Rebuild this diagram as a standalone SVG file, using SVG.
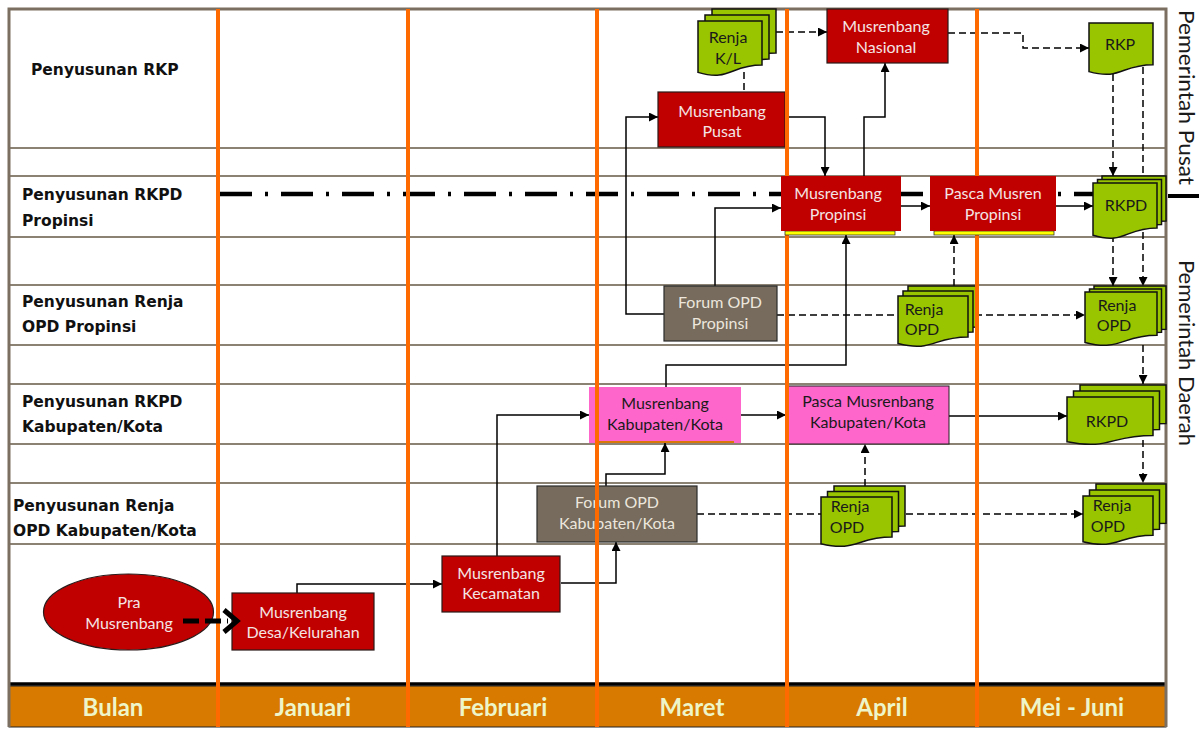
<svg xmlns="http://www.w3.org/2000/svg" width="1203" height="730" viewBox="0 0 1203 730">
<style>
.rl{font-family:"DejaVu Sans","Liberation Sans",sans-serif;font-weight:bold;font-size:15.5px;fill:#111}
.bt{font-family:Lato,"Liberation Sans",sans-serif;font-size:16px;text-anchor:middle}
.lt{fill:#f4e4e4}
.ft{fill:#ece6dc}
.dk{fill:#1a1a1a}
.red{fill:#c00000;stroke:#2a1a1a;stroke-width:1.2}
.redn{fill:#c00000}
.forum{fill:#766b5c;stroke:#2a2a2a;stroke-width:1.2}
.pink{fill:#ff66cc}
.doc{fill:#99c400;stroke:#111;stroke-width:1.5}
.conn{fill:none;stroke:#000;stroke-width:1.5}
.dash{stroke-dasharray:7 4}
.grid{stroke:#8c8274;stroke-width:2}
.col{stroke:#ff6a00;stroke-width:4}
.month{font-family:Lato,"Liberation Sans",sans-serif;font-weight:bold;font-size:24px;fill:#eef5c8;text-anchor:middle}
.side{font-family:Lato,"Liberation Sans",sans-serif;font-size:22px;fill:#1a1a1a}
</style>
<defs>
<marker id="ah" viewBox="0 0 10 10" refX="10" refY="5" markerWidth="10" markerHeight="9" markerUnits="userSpaceOnUse" orient="auto">
<path d="M0 0 L10 5 L0 10 Z" fill="#000"/>
</marker>
</defs>
<rect width="1203" height="730" fill="#fff"/>
<g id="grid">
<line class="grid" x1="9" y1="148" x2="1166" y2="148"/>
<line class="grid" x1="9" y1="176" x2="1166" y2="176"/>
<line class="grid" x1="9" y1="237" x2="1166" y2="237"/>
<line class="grid" x1="9" y1="285" x2="1166" y2="285"/>
<line class="grid" x1="9" y1="345" x2="1166" y2="345"/>
<line class="grid" x1="9" y1="384" x2="1166" y2="384"/>
<line class="grid" x1="9" y1="444" x2="1166" y2="444"/>
<line class="grid" x1="9" y1="483" x2="1166" y2="483"/>
<line class="grid" x1="9" y1="544" x2="1166" y2="544"/>
<rect x="9" y="686" width="1157" height="41" fill="#d97a00" stroke="#222" stroke-width="1"/>
<line x1="9" y1="684" x2="1166" y2="684" stroke="#000" stroke-width="3.5"/>
<path d="M9 727 V9 H1166 V727" fill="none" stroke="#7a6f60" stroke-width="3"/>
<line x1="1168" y1="196" x2="1199" y2="196" stroke="#000" stroke-width="4"/>
</g>
<g id="connectors">
<line x1="220" y1="194" x2="1093" y2="194" stroke="#000" stroke-width="4.5" stroke-dasharray="32 13 3 13"/>
<path class="conn" d="M297 593 V584 H442" marker-end="url(#ah)"/>
<path class="conn" d="M561 583 H616 V542" marker-end="url(#ah)"/>
<path class="conn" d="M497 556 V415 H589" marker-end="url(#ah)"/>
<path class="conn" d="M606 486 V474 H665 V443" marker-end="url(#ah)"/>
<path class="conn" d="M741 415 H786" marker-end="url(#ah)"/>
<path class="conn" d="M666 387 V365 H846 V235" marker-end="url(#ah)"/>
<path class="conn" d="M949 416 H1067" marker-end="url(#ah)"/>
<path class="conn" d="M664 314 H626 V117 H658" marker-end="url(#ah)"/>
<path class="conn" d="M715 286 V208 H781" marker-end="url(#ah)"/>
<path class="conn" d="M785 117 H825 V176" marker-end="url(#ah)"/>
<path class="conn" d="M864 176 V117 H885 V63" marker-end="url(#ah)"/>
<path class="conn" d="M901 206 H930" marker-end="url(#ah)"/>
<path class="conn" d="M1056 206 H1093" marker-end="url(#ah)"/>
<path class="conn dash" d="M776 32 H827" marker-end="url(#ah)"/>
<path class="conn dash" d="M744 72 V92"/>
<path class="conn dash" d="M948 33 H1023 V48 H1089" marker-end="url(#ah)"/>
<path class="conn dash" d="M1113 74 V176" marker-end="url(#ah)"/>
<path class="conn dash" d="M1143 67 V286" marker-end="url(#ah)"/>
<path class="conn dash" d="M1113 235 V286" marker-end="url(#ah)"/>
<path class="conn dash" d="M954 286 V235" marker-end="url(#ah)"/>
<path class="conn dash" d="M777 315 H1085" marker-end="url(#ah)"/>
<path class="conn dash" d="M1143 345 V384" marker-end="url(#ah)"/>
<path class="conn dash" d="M1143 440 V483" marker-end="url(#ah)"/>
<path class="conn dash" d="M865 486 V444" marker-end="url(#ah)"/>
<path class="conn dash" d="M697 514 H1083" marker-end="url(#ah)"/>
</g>
<g id="pra-musrenbang">
<ellipse cx="128.5" cy="612" rx="85" ry="38" class="red"/>
<text class="bt lt" x="129" y="608">Pra</text>
<text class="bt lt" x="129" y="629">Musrenbang</text>
</g>
<g id="musrenbang-desa">
<rect x="232" y="593" width="142" height="57" class="red"/>
<text class="bt lt" x="303" y="618">Musrenbang</text>
<text class="bt lt" x="303" y="638">Desa/Kelurahan</text>
</g>
<g id="musrenbang-kecamatan">
<rect x="442" y="556" width="118" height="56" class="red"/>
<text class="bt lt" x="501" y="579">Musrenbang</text>
<text class="bt lt" x="501" y="599">Kecamatan</text>
</g>
<g id="forum-opd-kab">
<rect x="537" y="486" width="160" height="56" class="forum"/>
<text class="bt ft" x="617" y="508">Forum OPD</text>
<text class="bt ft" x="617" y="529">Kabupaten/Kota</text>
</g>
<g id="musrenbang-kab">
<rect x="589" y="387" width="152" height="56" class="pink"/>
<line x1="597" y1="442" x2="734" y2="442" stroke="#d9780a" stroke-width="2"/>
<text class="bt dk" x="665" y="409">Musrenbang</text>
<text class="bt dk" x="665" y="430">Kabupaten/Kota</text>
</g>
<g id="pasca-musrenbang-kab">
<rect x="786" y="386" width="163" height="58" class="pink" stroke="#222" stroke-width="1"/>
<text class="bt dk" x="868" y="407">Pasca Musrenbang</text>
<text class="bt dk" x="868" y="428">Kabupaten/Kota</text>
</g>
<g id="forum-opd-propinsi">
<rect x="664" y="286" width="113" height="55" class="forum"/>
<text class="bt ft" x="720" y="308">Forum OPD</text>
<text class="bt ft" x="720" y="329">Propinsi</text>
</g>
<g id="musrenbang-pusat">
<rect x="658" y="92" width="127" height="55" class="red"/>
<text class="bt lt" x="722" y="117">Musrenbang</text>
<text class="bt lt" x="722" y="137">Pusat</text>
</g>
<g id="musrenbang-nasional">
<rect x="827" y="9" width="121" height="54" class="red"/>
<text class="bt lt" x="886" y="32">Musrenbang</text>
<text class="bt lt" x="886" y="53">Nasional</text>
</g>
<g id="renja-kl" transform="translate(698 21)">
<path class="doc" transform="translate(14 -12)" d="M0 0 H64 V44.1 C32 44.1 32 60.9 0 51.4 Z"/>
<path class="doc" transform="translate(7 -6)" d="M0 0 H64 V44.1 C32 44.1 32 60.9 0 51.4 Z"/>
<path class="doc" d="M0 0 H64 V44.1 C32 44.1 32 60.9 0 51.4 Z"/>
<text class="bt dk" x="30" y="22">Renja</text>
<text class="bt dk" x="30" y="43">K/L</text>
</g>
<g id="rkp" transform="translate(1089 23)">
<path class="doc" d="M0 0 H64 V41.7 C32 41.7 32 57.6 0 48.6 Z"/>
<text class="bt dk" x="31" y="27">RKP</text>
</g>
<g id="rkpd-propinsi" transform="translate(1093 183)">
<path class="doc" transform="translate(9 -7)" d="M0 0 H64 V44.9 C32 44.9 32 62 0 52.3 Z"/>
<path class="doc" transform="translate(4.5 -3.5)" d="M0 0 H64 V44.9 C32 44.9 32 62 0 52.3 Z"/>
<path class="doc" d="M0 0 H64 V44.9 C32 44.9 32 62 0 52.3 Z"/>
<text class="bt dk" x="33" y="28">RKPD</text>
</g>
<g id="renja-opd-propinsi-1" transform="translate(898 296)">
<path class="doc" transform="translate(10 -10)" d="M0 0 H70 V40.9 C35 40.9 35 56.5 0 47.6 Z"/>
<path class="doc" transform="translate(5 -5)" d="M0 0 H70 V40.9 C35 40.9 35 56.5 0 47.6 Z"/>
<path class="doc" d="M0 0 H70 V40.9 C35 40.9 35 56.5 0 47.6 Z"/>
<text class="bt dk" x="26" y="19">Renja</text>
<text class="bt dk" x="24" y="39">OPD</text>
</g>
<g id="renja-opd-propinsi-2" transform="translate(1085 292)">
<path class="doc" transform="translate(9 -6)" d="M0 0 H72 V43.3 C36 43.3 36 59.8 0 50.4 Z"/>
<path class="doc" transform="translate(4.5 -3)" d="M0 0 H72 V43.3 C36 43.3 36 59.8 0 50.4 Z"/>
<path class="doc" d="M0 0 H72 V43.3 C36 43.3 36 59.8 0 50.4 Z"/>
<text class="bt dk" x="32" y="19">Renja</text>
<text class="bt dk" x="29" y="39">OPD</text>
</g>
<g id="rkpd-kab" transform="translate(1067 397)">
<path class="doc" transform="translate(13 -12)" d="M0 0 H86 V38.5 C43 38.5 43 53.1 0 44.8 Z"/>
<path class="doc" transform="translate(6.5 -6)" d="M0 0 H86 V38.5 C43 38.5 43 53.1 0 44.8 Z"/>
<path class="doc" d="M0 0 H86 V38.5 C43 38.5 43 53.1 0 44.8 Z"/>
<text class="bt dk" x="40" y="30">RKPD</text>
</g>
<g id="renja-opd-kab-1" transform="translate(821 497)">
<path class="doc" transform="translate(13 -11)" d="M0 0 H71 V40.1 C35.5 40.1 35.5 55.4 0 46.7 Z"/>
<path class="doc" transform="translate(6.5 -5.5)" d="M0 0 H71 V40.1 C35.5 40.1 35.5 55.4 0 46.7 Z"/>
<path class="doc" d="M0 0 H71 V40.1 C35.5 40.1 35.5 55.4 0 46.7 Z"/>
<text class="bt dk" x="29" y="15">Renja</text>
<text class="bt dk" x="26" y="36">OPD</text>
</g>
<g id="renja-opd-kab-2" transform="translate(1083 496)">
<path class="doc" transform="translate(13 -12)" d="M0 0 H70 V39.3 C35 39.3 35 54.2 0 45.8 Z"/>
<path class="doc" transform="translate(6.5 -6)" d="M0 0 H70 V39.3 C35 39.3 35 54.2 0 45.8 Z"/>
<path class="doc" d="M0 0 H70 V39.3 C35 39.3 35 54.2 0 45.8 Z"/>
<text class="bt dk" x="29" y="15">Renja</text>
<text class="bt dk" x="25" y="36">OPD</text>
</g>
<g id="month-lines">
<line class="col" x1="218" y1="9" x2="218" y2="727"/>
<line class="col" x1="408" y1="9" x2="408" y2="727"/>
<line class="col" x1="597" y1="9" x2="597" y2="727"/>
<line class="col" x1="787" y1="9" x2="787" y2="727"/>
<line class="col" x1="977" y1="9" x2="977" y2="727"/>
</g>
<g id="connector-pra-to-desa">
<path d="M183 621 H228" fill="none" stroke="#000" stroke-width="5" stroke-dasharray="16 6"/>
<path d="M224 610 L237 621 L224 632" fill="none" stroke="#000" stroke-width="5"/>
</g>
<g id="musrenbang-propinsi">
<rect x="785" y="231" width="110" height="4" fill="#ffff00" stroke="#333" stroke-width="0.8"/>
<rect x="781" y="176" width="120" height="55" class="redn"/>
<text class="bt lt" x="838" y="199">Musrenbang</text>
<text class="bt lt" x="838" y="220">Propinsi</text>
</g>
<g id="pasca-musren-propinsi">
<rect x="934" y="231" width="120" height="4" fill="#ffff00" stroke="#333" stroke-width="0.8"/>
<rect x="930" y="176" width="126" height="55" class="redn"/>
<text class="bt lt" x="993" y="199">Pasca Musren</text>
<text class="bt lt" x="993" y="220">Propinsi</text>
</g>
<g id="row-labels">
<text class="rl" x="31" y="75">Penyusunan RKP</text>
<text class="rl" x="22" y="200">Penyusunan RKPD</text>
<text class="rl" x="22" y="226">Propinsi</text>
<text class="rl" x="22" y="307">Penyusunan Renja</text>
<text class="rl" x="22" y="332">OPD Propinsi</text>
<text class="rl" x="22" y="407">Penyusunan RKPD</text>
<text class="rl" x="22" y="432">Kabupaten/Kota</text>
<text class="rl" x="13" y="511">Penyusunan Renja</text>
<text class="rl" x="13" y="536">OPD Kabupaten/Kota</text>
</g>
<g id="month-labels">
<text class="month" x="113" y="716">Bulan</text>
<text class="month" x="313" y="716">Januari</text>
<text class="month" x="503" y="716">Februari</text>
<text class="month" x="692" y="716">Maret</text>
<text class="month" x="882" y="716">April</text>
<text class="month" x="1072" y="716">Mei - Juni</text>
</g>
<g id="side-labels">
<text class="side" transform="translate(1179 10) rotate(90)" textLength="175" lengthAdjust="spacingAndGlyphs">Pemerintah Pusat</text>
<text class="side" transform="translate(1179 260) rotate(90)" textLength="186" lengthAdjust="spacingAndGlyphs">Pemerintah Daerah</text>
</g>
</svg>
